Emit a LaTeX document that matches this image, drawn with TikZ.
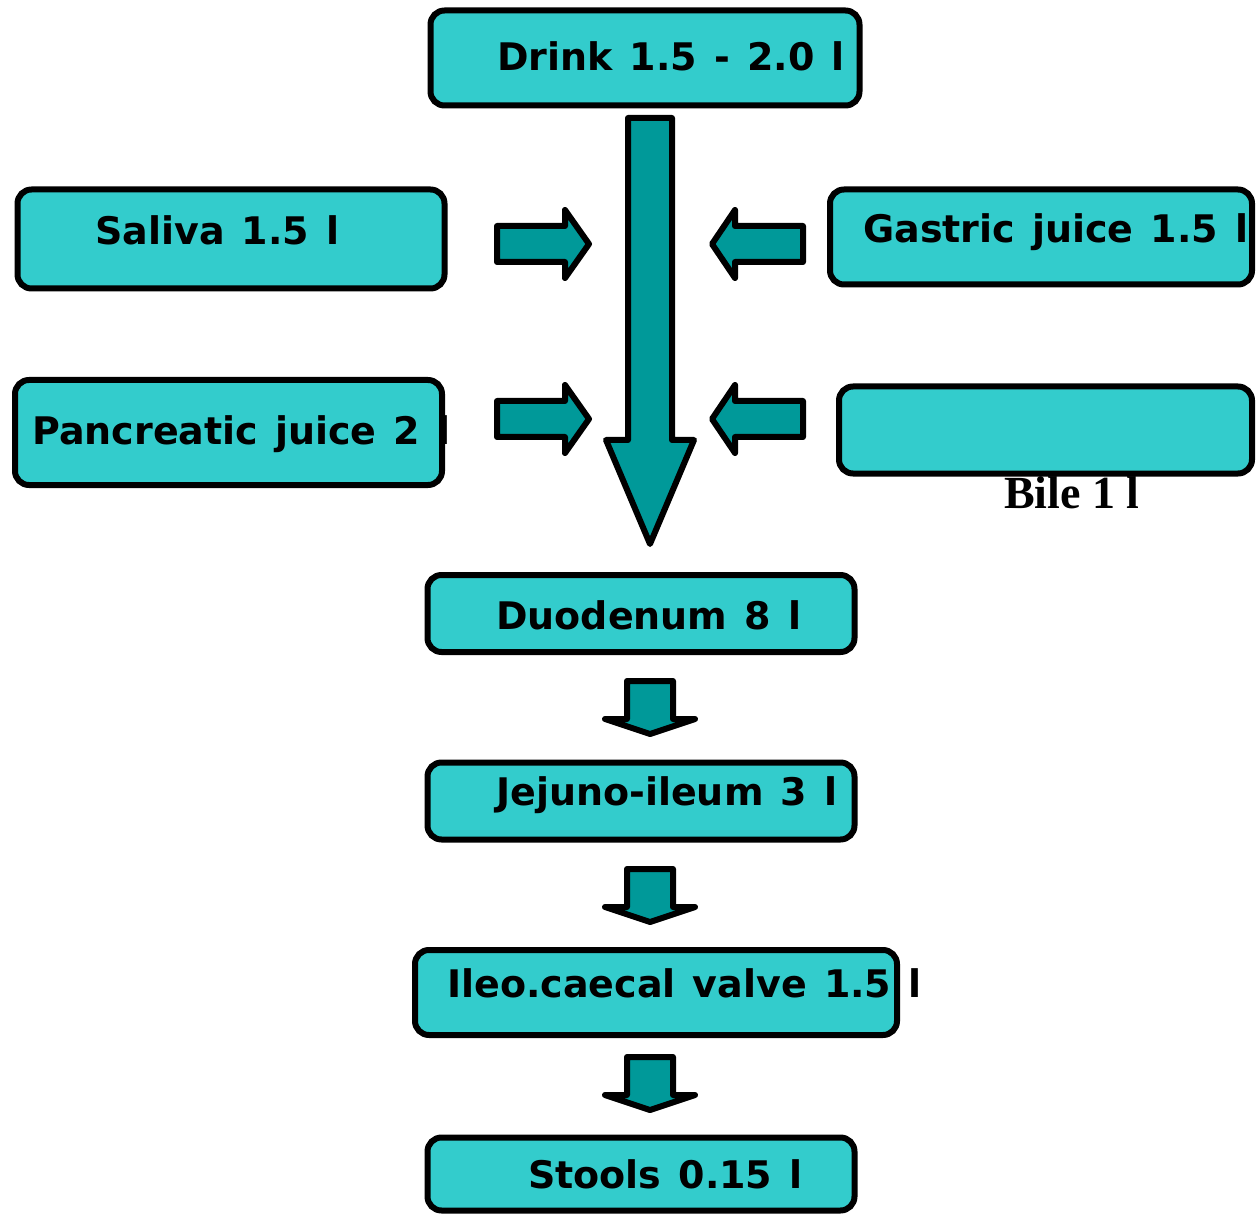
\documentclass[tikz,border=0pt]{standalone}
\usepackage{fontspec}
\setmainfont{DejaVu Sans}
\newfontfamily\timesfont{Liberation Serif}
\usepackage{tikz}

\definecolor{boxfill}{HTML}{33CCCC}
\definecolor{arrowfill}{HTML}{009999}
\newcommand\widespace{\spaceskip=0.45em\relax}

\begin{document}
\begin{tikzpicture}[x=1pt,y=-1pt,
	box/.style={draw=black,line width=6pt,fill=boxfill,rounded corners=14pt,rectangle,inner sep=0pt},
	flow/.style={draw=black,line width=6pt,fill=arrowfill,line join=round},
	lbl/.style={anchor=base west,inner sep=0pt,font=\fontsize{38}{45}\selectfont\bfseries,execute at begin node=\widespace}]
	\useasboundingbox (0,0) rectangle (1256,1214);
	
	\node[box,minimum width=429pt,minimum height=95pt] (drink) at (645,58) {};
	\node[box,minimum width=427pt,minimum height=99pt] (saliva) at (231,239) {};
	\node[box,minimum width=422pt,minimum height=95pt] (gastric) at (1041,237) {};
	\node[box,minimum width=427pt,minimum height=105pt] (pancreatic) at (228.5,432.5) {};
	\node[box,minimum width=413pt,minimum height=87pt] (bile) at (1045.5,430) {};
	\node[box,minimum width=427pt,minimum height=77pt] (duodenum) at (641,613.5) {};
	\node[box,minimum width=427pt,minimum height=77pt] (jejuno) at (641,801) {};
	\node[box,minimum width=482pt,minimum height=85pt] (ileo) at (656,992.5) {};
	\node[box,minimum width=427pt,minimum height=73pt] (stools) at (641,1174) {};
	
	\node[lbl] (drinktxt) at (497,71) {Drink 1.5 - 2.0 l};
	\node[lbl] (salivatxt) at (95,245) {Saliva 1.5 l};
	\node[lbl] (gastrictxt) at (863,243) {Gastric juice 1.5 l};
	\node[lbl] (pancreatictxt) at (32,445) {Pancreatic juice 2 l};
	\node[anchor=base west,inner sep=0pt,font=\timesfont\fontsize{46}{52}\selectfont\bfseries] (biletxt) at (1004,508) {Bile 1 l};
	\node[lbl] (duodenumtxt) at (496,629) {Duodenum 8 l};
	\node[lbl] (jejunotxt) at (496,805) {Jejuno-ileum 3 l};
	\node[lbl] (ileotxt) at (447,997) {Ileo.caecal valve 1.5 l};
	\node[lbl] (stoolstxt) at (528,1188) {Stools 0.15 l};
	
	% main stream
	\draw[flow] (628,118) -- (672,118) -- (672,440) -- (694,440) -- (650,544) -- (606,440) -- (628,440) -- cycle;
	
	% juices coming in
	\draw[flow] (497,226) -- (565,226) -- (565,210) -- (589,244) -- (565,278) -- (565,262) -- (497,262) -- cycle;
	\draw[flow] (803,226) -- (735,226) -- (735,210) -- (712,244) -- (735,278) -- (735,262) -- (803,262) -- cycle;
	\draw[flow] (497,401) -- (565,401) -- (565,385) -- (589,419) -- (565,453) -- (565,437) -- (497,437) -- cycle;
	\draw[flow] (803,401) -- (735,401) -- (735,385) -- (712,419) -- (735,453) -- (735,437) -- (803,437) -- cycle;
	
	% down the gut
	\draw[flow] (627,681) -- (673,681) -- (673,719) -- (695,719) -- (650,734) -- (605,719) -- (627,719) -- cycle;
	\draw[flow] (627,869) -- (673,869) -- (673,907) -- (695,907) -- (650,922) -- (605,907) -- (627,907) -- cycle;
	\draw[flow] (627,1057) -- (673,1057) -- (673,1095) -- (695,1095) -- (650,1110) -- (605,1095) -- (627,1095) -- cycle;
\end{tikzpicture}
\end{document}
